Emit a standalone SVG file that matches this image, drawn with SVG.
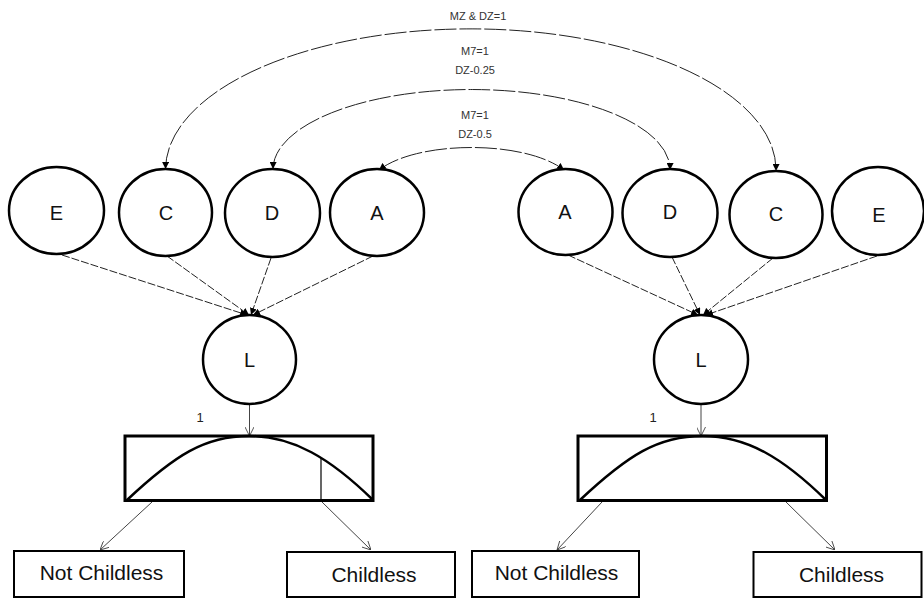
<svg xmlns="http://www.w3.org/2000/svg" width="924" height="599" viewBox="0 0 924 599">
<defs>
<style>
.node{fill:#fff;stroke:#000;stroke-width:2.5}
.lbl{font-family:"Liberation Sans",Arial,sans-serif;font-size:20px;fill:#111;text-anchor:middle}
.small{font-family:"Liberation Sans",Arial,sans-serif;font-size:11px;fill:#333;text-anchor:middle}
.one{font-family:"Liberation Sans",Arial,sans-serif;font-size:13px;fill:#222;text-anchor:middle}
.out{font-family:"Liberation Sans",Arial,sans-serif;font-size:21px;fill:#111;text-anchor:middle}
.arc{fill:none;stroke:#222;stroke-width:1;stroke-dasharray:22 3}
.path{fill:none;stroke:#222;stroke-width:1;stroke-dasharray:8 2}
.thin{fill:none;stroke:#444;stroke-width:1}
.thr{fill:#fff;stroke:#000;stroke-width:3}
.curve{fill:none;stroke:#000;stroke-width:2.5}
.box{fill:#fff;stroke:#000;stroke-width:2}
</style>
<marker id="fh" viewBox="0 0 10 10" refX="10" refY="5" markerWidth="7" markerHeight="7" markerUnits="userSpaceOnUse" orient="auto-start-reverse">
<path d="M0,0 L10,5 L0,10 Z" fill="#000"/>
</marker>
<marker id="oh" viewBox="0 0 10 10" refX="10" refY="5" markerWidth="9" markerHeight="9" markerUnits="userSpaceOnUse" orient="auto">
<path d="M0,0 L10,5 L0,10" fill="none" stroke="#444" stroke-width="1"/>
</marker>
</defs>
<rect width="924" height="599" fill="#fff"/>

<g id="connectors">
<path class="arc" d="M165.5,169 A305,141 0 0 1 776,171" marker-start="url(#fh)" marker-end="url(#fh)"/>
<path class="arc" d="M273,169 A198.5,80 0 0 1 670,170" marker-start="url(#fh)" marker-end="url(#fh)"/>
<path class="arc" d="M379,170 C418,140 525,140 564,170" marker-start="url(#fh)" marker-end="url(#fh)"/>

<line class="path" x1="62" y1="255" x2="247" y2="315" marker-end="url(#fh)"/>
<line class="path" x1="167" y1="256" x2="249" y2="315" marker-end="url(#fh)"/>
<line class="path" x1="271" y1="258" x2="251" y2="315" marker-end="url(#fh)"/>
<line class="path" x1="373" y1="256" x2="253" y2="315" marker-end="url(#fh)"/>

<line class="path" x1="568" y1="255" x2="698" y2="315" marker-end="url(#fh)"/>
<line class="path" x1="672" y1="257" x2="700" y2="315" marker-end="url(#fh)"/>
<line class="path" x1="773" y1="258" x2="703" y2="315" marker-end="url(#fh)"/>
<line class="path" x1="877" y1="256" x2="706" y2="315" marker-end="url(#fh)"/>

<line class="thin" x1="249.5" y1="404" x2="249.5" y2="436" marker-end="url(#oh)"/>
<line class="thin" x1="701" y1="404" x2="701" y2="436" marker-end="url(#oh)"/>

<line class="thin" x1="152" y1="502" x2="100" y2="550" marker-end="url(#oh)"/>
<line class="thin" x1="322" y1="502" x2="371" y2="550" marker-end="url(#oh)"/>
<line class="thin" x1="602" y1="502" x2="557" y2="550" marker-end="url(#oh)"/>
<line class="thin" x1="786" y1="502" x2="835" y2="550" marker-end="url(#oh)"/>
</g>

<g id="labels">
<text class="small" x="478" y="20">MZ &amp; DZ=1</text>
<text class="small" x="475" y="55">M7=1</text>
<text class="small" x="475" y="74">DZ-0.25</text>
<text class="small" x="475" y="119">M7=1</text>
<text class="small" x="475" y="138">DZ-0.5</text>
<text class="one" x="200" y="422">1</text>
<text class="one" x="653" y="422">1</text>
</g>

<g id="E1"><ellipse class="node" cx="56.5" cy="210.5" rx="47.5" ry="43.5"/><text class="lbl" x="56.5" y="220">E</text></g>
<g id="C1"><ellipse class="node" cx="165.5" cy="212.5" rx="46.5" ry="43.5"/><text class="lbl" x="166" y="220">C</text></g>
<g id="D1"><ellipse class="node" cx="272.5" cy="213" rx="47.5" ry="44"/><text class="lbl" x="272" y="220">D</text></g>
<g id="A1"><ellipse class="node" cx="377" cy="212.5" rx="47" ry="43.5"/><text class="lbl" x="377" y="220">A</text></g>
<g id="L1"><ellipse class="node" cx="249.5" cy="359.5" rx="46.5" ry="44.5"/><text class="lbl" x="249.5" y="367">L</text></g>

<g id="A2"><ellipse class="node" cx="565.5" cy="212" rx="47" ry="43"/><text class="lbl" x="565" y="219">A</text></g>
<g id="D2"><ellipse class="node" cx="670" cy="213" rx="47.5" ry="44"/><text class="lbl" x="670" y="219">D</text></g>
<g id="C2"><ellipse class="node" cx="776" cy="214.5" rx="46.5" ry="43.5"/><text class="lbl" x="776" y="221">C</text></g>
<g id="E2"><ellipse class="node" cx="878" cy="211" rx="46" ry="44"/><text class="lbl" x="879" y="222">E</text></g>
<g id="L2"><ellipse class="node" cx="701" cy="359.5" rx="47" ry="44.5"/><text class="lbl" x="701" y="367">L</text></g>

<g id="T1">
<rect class="thr" x="125" y="436" width="248" height="64.5"/>
<path class="curve" d="M127,500 C175,455 205,436 249,436 S330,458 373,500"/>
<line x1="321" y1="458" x2="321" y2="500" stroke="#000" stroke-width="1.2"/>
</g>
<g id="T2">
<rect class="thr" x="578" y="436" width="248.5" height="64.5"/>
<path class="curve" d="M580,500 C628,455 658,436 702.5,436 S783,458 826,500"/>
</g>

<g id="NC1"><rect class="box" x="14" y="551" width="170" height="46"/><text class="out" x="101.5" y="580">Not Childless</text></g>
<g id="CH1"><rect class="box" x="287" y="552" width="168" height="45"/><text class="out" x="374" y="582">Childless</text></g>
<g id="NC2"><rect class="box" x="472" y="551" width="167" height="46"/><text class="out" x="556.5" y="580">Not Childless</text></g>
<g id="CH2"><rect class="box" x="753.5" y="552" width="168" height="45"/><text class="out" x="841.5" y="582">Childless</text></g>
</svg>
